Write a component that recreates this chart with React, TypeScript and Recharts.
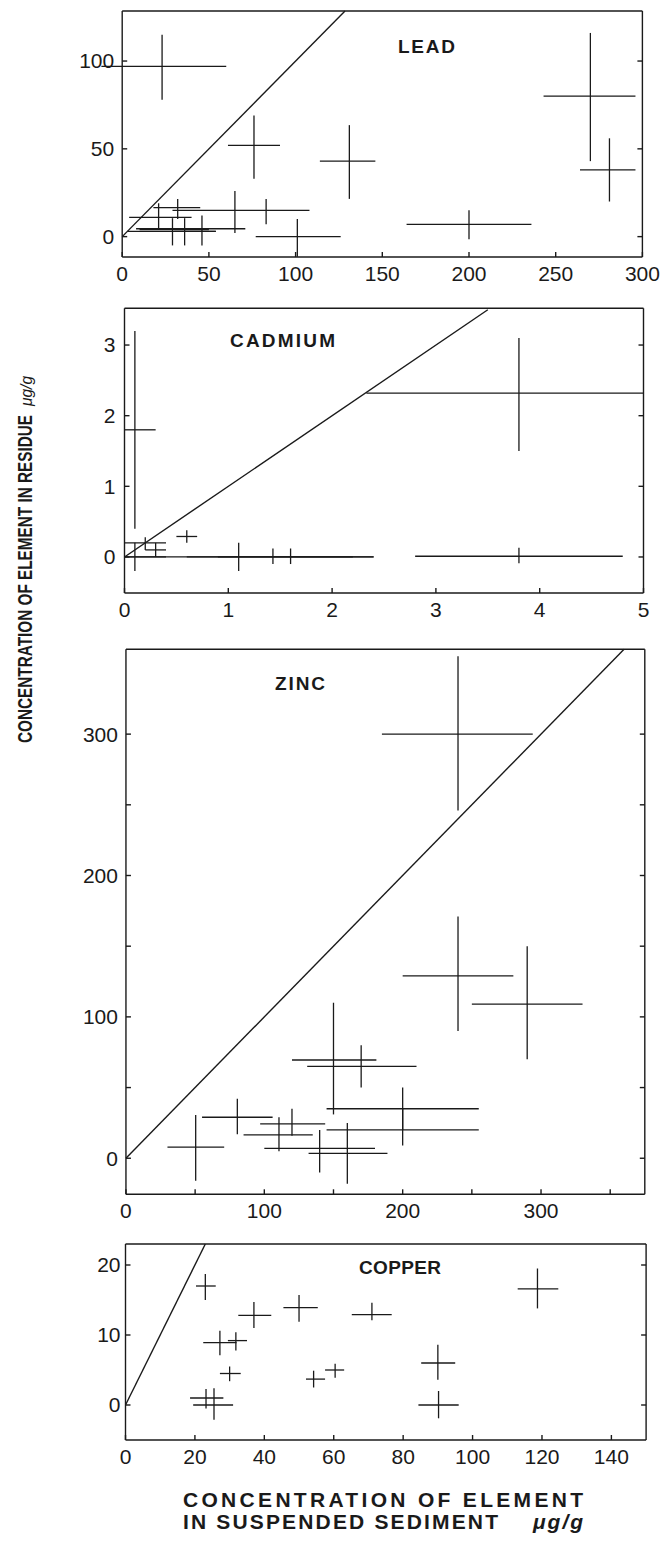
import React from "react";
import { ErrorBar, ReferenceLine, Scatter, ScatterChart, XAxis, YAxis } from "recharts";

type Range = [number, number];

// Lead: centre values and the ends of each cross
const leadX = [23, 76, 131, 101, 83, 21, 32, 29, 36, 46, 65, 200, 270, 281];
const leadY = [97, 52, 43, 0, 15, 11, 16.5, 3, 4, 3, 4.5, 7, 80, 38];
const leadXRange: Range[] = [
  [-12, 60], [61, 91], [114, 146], [77, 126], [29, 108], [4, 40], [18, 45],
  [3, 54], [10, 50], [30, 54], [8, 71], [164, 236], [243, 296], [264, 296],
];
const leadYRange: Range[] = [
  [78, 115], [33, 69], [21.5, 63.5], [-11.4, 10], [7, 21.5], [4, 19], [10, 21.5],
  [-5, 10.5], [-5, 10.5], [-5, 12], [2, 26], [-1.5, 15], [43, 116], [20, 56],
];

// Cadmium
const cadX = [0.1, 0.1, 1.1, 1.43, 1.6, 0.2, 0.3, 0.6, 3.8, 3.8];
const cadY = [1.8, 0, 0, 0, 0, 0.2, 0.1, 0.29, 2.32, 0.01];
const cadXRange: Range[] = [
  [0, 0.3], [0, 0.4], [0, 2.4], [0.6, 2.2], [0.9, 2.4], [0, 0.4], [0.2, 0.4],
  [0.5, 0.7], [2.33, 5], [2.8, 4.8],
];
const cadYRange: Range[] = [
  [0.4, 3.2], [-0.2, 0.2], [-0.2, 0.2], [-0.1, 0.12], [-0.1, 0.12], [0.1, 0.28],
  [0, 0.2], [0.2, 0.38], [1.5, 3.1], [-0.09, 0.13],
];

// Zinc
const zincX = [240, 240, 290, 150, 170, 200, 200, 160, 140, 110.6, 120, 80.5, 50.4];
const zincY = [300, 129, 109, 69.5, 65, 35, 20, 3.5, 7, 16.5, 24.3, 29, 7.8];
const zincXRange: Range[] = [
  [185, 294], [200, 280], [250, 330], [120, 181], [131, 210], [145, 255], [145, 255],
  [132, 189], [100, 180], [85, 135], [97, 144], [55, 106], [30, 71],
];
const zincYRange: Range[] = [
  [246, 355], [90, 171], [70, 150], [31, 110], [50, 80], [20, 50], [9, 35],
  [-18, 25], [-10, 20], [5, 29], [16, 35], [17, 42], [-16, 30.6],
];

// Copper
const cuX = [23, 27.2, 31.8, 30, 37, 50, 54.2, 60.4, 71, 23.2, 25.5, 118.7, 90, 90.2];
const cuY = [17, 8.9, 9.2, 4.5, 12.8, 13.9, 3.7, 5, 12.9, 1, 0, 16.6, 6, 0];
const cuXRange: Range[] = [
  [20.3, 26], [22.4, 32], [29.5, 35], [27.2, 33.2], [32.5, 42], [45.5, 55.4],
  [52, 57.5], [57.5, 63], [65.2, 76.7], [18.6, 28.2], [19.5, 31], [113, 124.7],
  [85.2, 95], [84.4, 96],
];
const cuYRange: Range[] = [
  [15, 18.7], [7.1, 10.6], [7.8, 10.4], [3.4, 5.5], [11, 14.7], [11.9, 15.7],
  [2.5, 4.9], [3.9, 5.9], [12.1, 14.6], [-0.5, 2.3], [-2.1, 2.4], [13.8, 19.5],
  [3.6, 8.6], [-1.9, 2],
];

// tick positions
const leadXTicks = [0, 50, 100, 150, 200, 250, 300];
const leadYTicks = [0, 50, 100];
const cadXTicks = [0, 1, 2, 3, 4, 5];
const cadYTicks = [0, 1, 2, 3];
const zincXTicks = [0, 50, 100, 150, 200, 250, 300, 350];
const zincYTicks = [0, 50, 100, 150, 200, 250, 300];
const cuXTicks = [0, 20, 40, 60, 80, 100, 120, 140];
const cuYTicks = [0, 10, 20];

const INK = "#1a1a1a";
const FONT = "'Liberation Sans', Arial, Helvetica, sans-serif";

function toRows(xs: number[], ys: number[], xr: Range[], yr: Range[]) {
  return xs.map((x, i) => ({
    x,
    y: ys[i],
    ex: [x - xr[i][0], xr[i][1] - x],
    ey: [ys[i] - yr[i][0], yr[i][1] - ys[i]],
  }));
}

const hundreds = (v: number) => (v % 100 === 0 ? String(v) : "");
const blank = () => "";

type PanelProps = {
  top: number;
  height: number;
  margin: { top: number; right: number; bottom: number; left: number };
  rows: ReturnType<typeof toRows>;
  xDomain: [number, number];
  yDomain: [number, number];
  xTicks: number[];
  yTicks: number[];
  diag: number;
  yTickMargin: number;
  fmt?: (v: number) => string;
};

function Panel(p: PanelProps) {
  const tickStyle = { fill: INK, fontSize: 21, fontFamily: FONT };
  const inner = p.xTicks.filter((t) => t > p.xDomain[0] && t < p.xDomain[1]);
  return (
    <div style={{ position: "absolute", left: 0, top: p.top }}>
      <ScatterChart width={662} height={p.height} margin={p.margin}>
        <XAxis
          xAxisId="b"
          dataKey="x"
          type="number"
          domain={p.xDomain}
          allowDataOverflow
          ticks={p.xTicks}
          interval={0}
          height={40}
          tickSize={-5}
          tickMargin={14}
          stroke={INK}
          strokeWidth={1.4}
          tick={tickStyle}
          tickFormatter={p.fmt}
        />
        <XAxis
          xAxisId="t"
          orientation="top"
          mirror
          type="number"
          domain={p.xDomain}
          allowDataOverflow
          ticks={inner}
          interval={0}
          tickSize={5}
          stroke={INK}
          strokeWidth={1.4}
          tickFormatter={blank}
        />
        <YAxis
          yAxisId="l"
          dataKey="y"
          type="number"
          domain={p.yDomain}
          allowDataOverflow
          ticks={p.yTicks}
          interval={0}
          width={60}
          tickSize={-5}
          tickMargin={p.yTickMargin}
          stroke={INK}
          strokeWidth={1.4}
          tick={tickStyle}
          tickFormatter={p.fmt}
        />
        <YAxis
          yAxisId="r"
          orientation="right"
          mirror
          type="number"
          domain={p.yDomain}
          allowDataOverflow
          ticks={p.yTicks}
          interval={0}
          tickSize={5}
          stroke={INK}
          strokeWidth={1.4}
          tickFormatter={blank}
        />
        <ReferenceLine
          xAxisId="b"
          yAxisId="l"
          segment={[
            { x: 0, y: 0 },
            { x: p.diag, y: p.diag },
          ]}
          ifOverflow="visible"
          stroke={INK}
          strokeWidth={1.4}
        />
        <Scatter
          xAxisId="b"
          yAxisId="l"
          data={p.rows}
          shape={() => <g />}
          isAnimationActive={false}
        >
          <ErrorBar dataKey="ex" direction="x" width={0} stroke={INK} strokeWidth={1.3} isAnimationActive={false} />
          <ErrorBar dataKey="ey" direction="y" width={0} stroke={INK} strokeWidth={1.3} isAnimationActive={false} />
        </Scatter>
      </ScatterChart>
    </div>
  );
}

export default function App() {
  const titleStyle = { fontFamily: FONT, fontWeight: 700, fontSize: 19, fill: INK };
  const labelStyle = { fontFamily: FONT, fontWeight: 700, fontSize: 21, fill: INK };
  return (
    <div
      style={{
        position: "absolute",
        left: 0,
        top: 0,
        width: 662,
        height: 1541,
        background: "#fff",
        overflow: "hidden",
      }}
    >
      <Panel
        top={0}
        height={297}
        margin={{ top: 11, right: 19.6, bottom: 0, left: 62.2 }}
        rows={toRows(leadX, leadY, leadXRange, leadYRange)}
        xDomain={[0, 300]}
        yDomain={[-11.6, 128.5]}
        xTicks={leadXTicks}
        yTicks={leadYTicks}
        diag={128.5}
        yTickMargin={13}
      />
      <Panel
        top={297}
        height={336}
        margin={{ top: 11.3, right: 18.5, bottom: 0, left: 64.5 }}
        rows={toRows(cadX, cadY, cadXRange, cadYRange)}
        xDomain={[0, 5]}
        yDomain={[-0.51, 3.52]}
        xTicks={cadXTicks}
        yTicks={cadYTicks}
        diag={3.5}
        yTickMargin={14}
      />
      <Panel
        top={633}
        height={601.3}
        margin={{ top: 16.3, right: 17.2, bottom: 0, left: 65.95 }}
        rows={toRows(zincX, zincY, zincXRange, zincYRange)}
        xDomain={[0, 375]}
        yDomain={[-25.5, 360]}
        xTicks={zincXTicks}
        yTicks={zincYTicks}
        diag={360}
        yTickMargin={13}
        fmt={hundreds}
      />
      <Panel
        top={1234}
        height={246}
        margin={{ top: 10, right: 15.9, bottom: 0, left: 65.5 }}
        rows={toRows(cuX, cuY, cuXRange, cuYRange)}
        xDomain={[0, 150]}
        yDomain={[-5, 23]}
        xTicks={cuXTicks}
        yTicks={cuYTicks}
        diag={23}
        yTickMargin={10}
      />

      <svg
        width={662}
        height={1541}
        style={{ position: "absolute", left: 0, top: 0, pointerEvents: "none" }}
      >
        <text x={398} y={53} textLength={57} style={titleStyle}>LEAD</text>
        <text x={230} y={346.5} textLength={105} style={titleStyle}>CADMIUM</text>
        <text x={275} y={689.5} textLength={50} style={titleStyle}>ZINC</text>
        <text x={359} y={1273.5} textLength={82} style={titleStyle}>COPPER</text>

        <g transform="translate(32, 743) rotate(-90)">
          <text x={0} y={0} textLength={328} lengthAdjust="spacingAndGlyphs" style={{ ...labelStyle, fontSize: 20 }}>
            CONCENTRATION OF ELEMENT IN RESIDUE
          </text>
        </g>
        <g transform="translate(32, 406) rotate(-90)">
          <text x={0} y={0} textLength={30} lengthAdjust="spacingAndGlyphs" style={{ ...labelStyle, fontSize: 17, fontStyle: "italic", fontWeight: 400 }}>
            μg/g
          </text>
        </g>

        <text x={183} y={1507} textLength={400} style={labelStyle}>
          CONCENTRATION OF ELEMENT
        </text>
        <text x={183} y={1529} textLength={315} style={labelStyle}>
          IN SUSPENDED SEDIMENT
        </text>
        <text x={533} y={1529} textLength={50} style={{ ...labelStyle, fontStyle: "italic" }}>
          μg/g
        </text>
      </svg>
    </div>
  );
}
